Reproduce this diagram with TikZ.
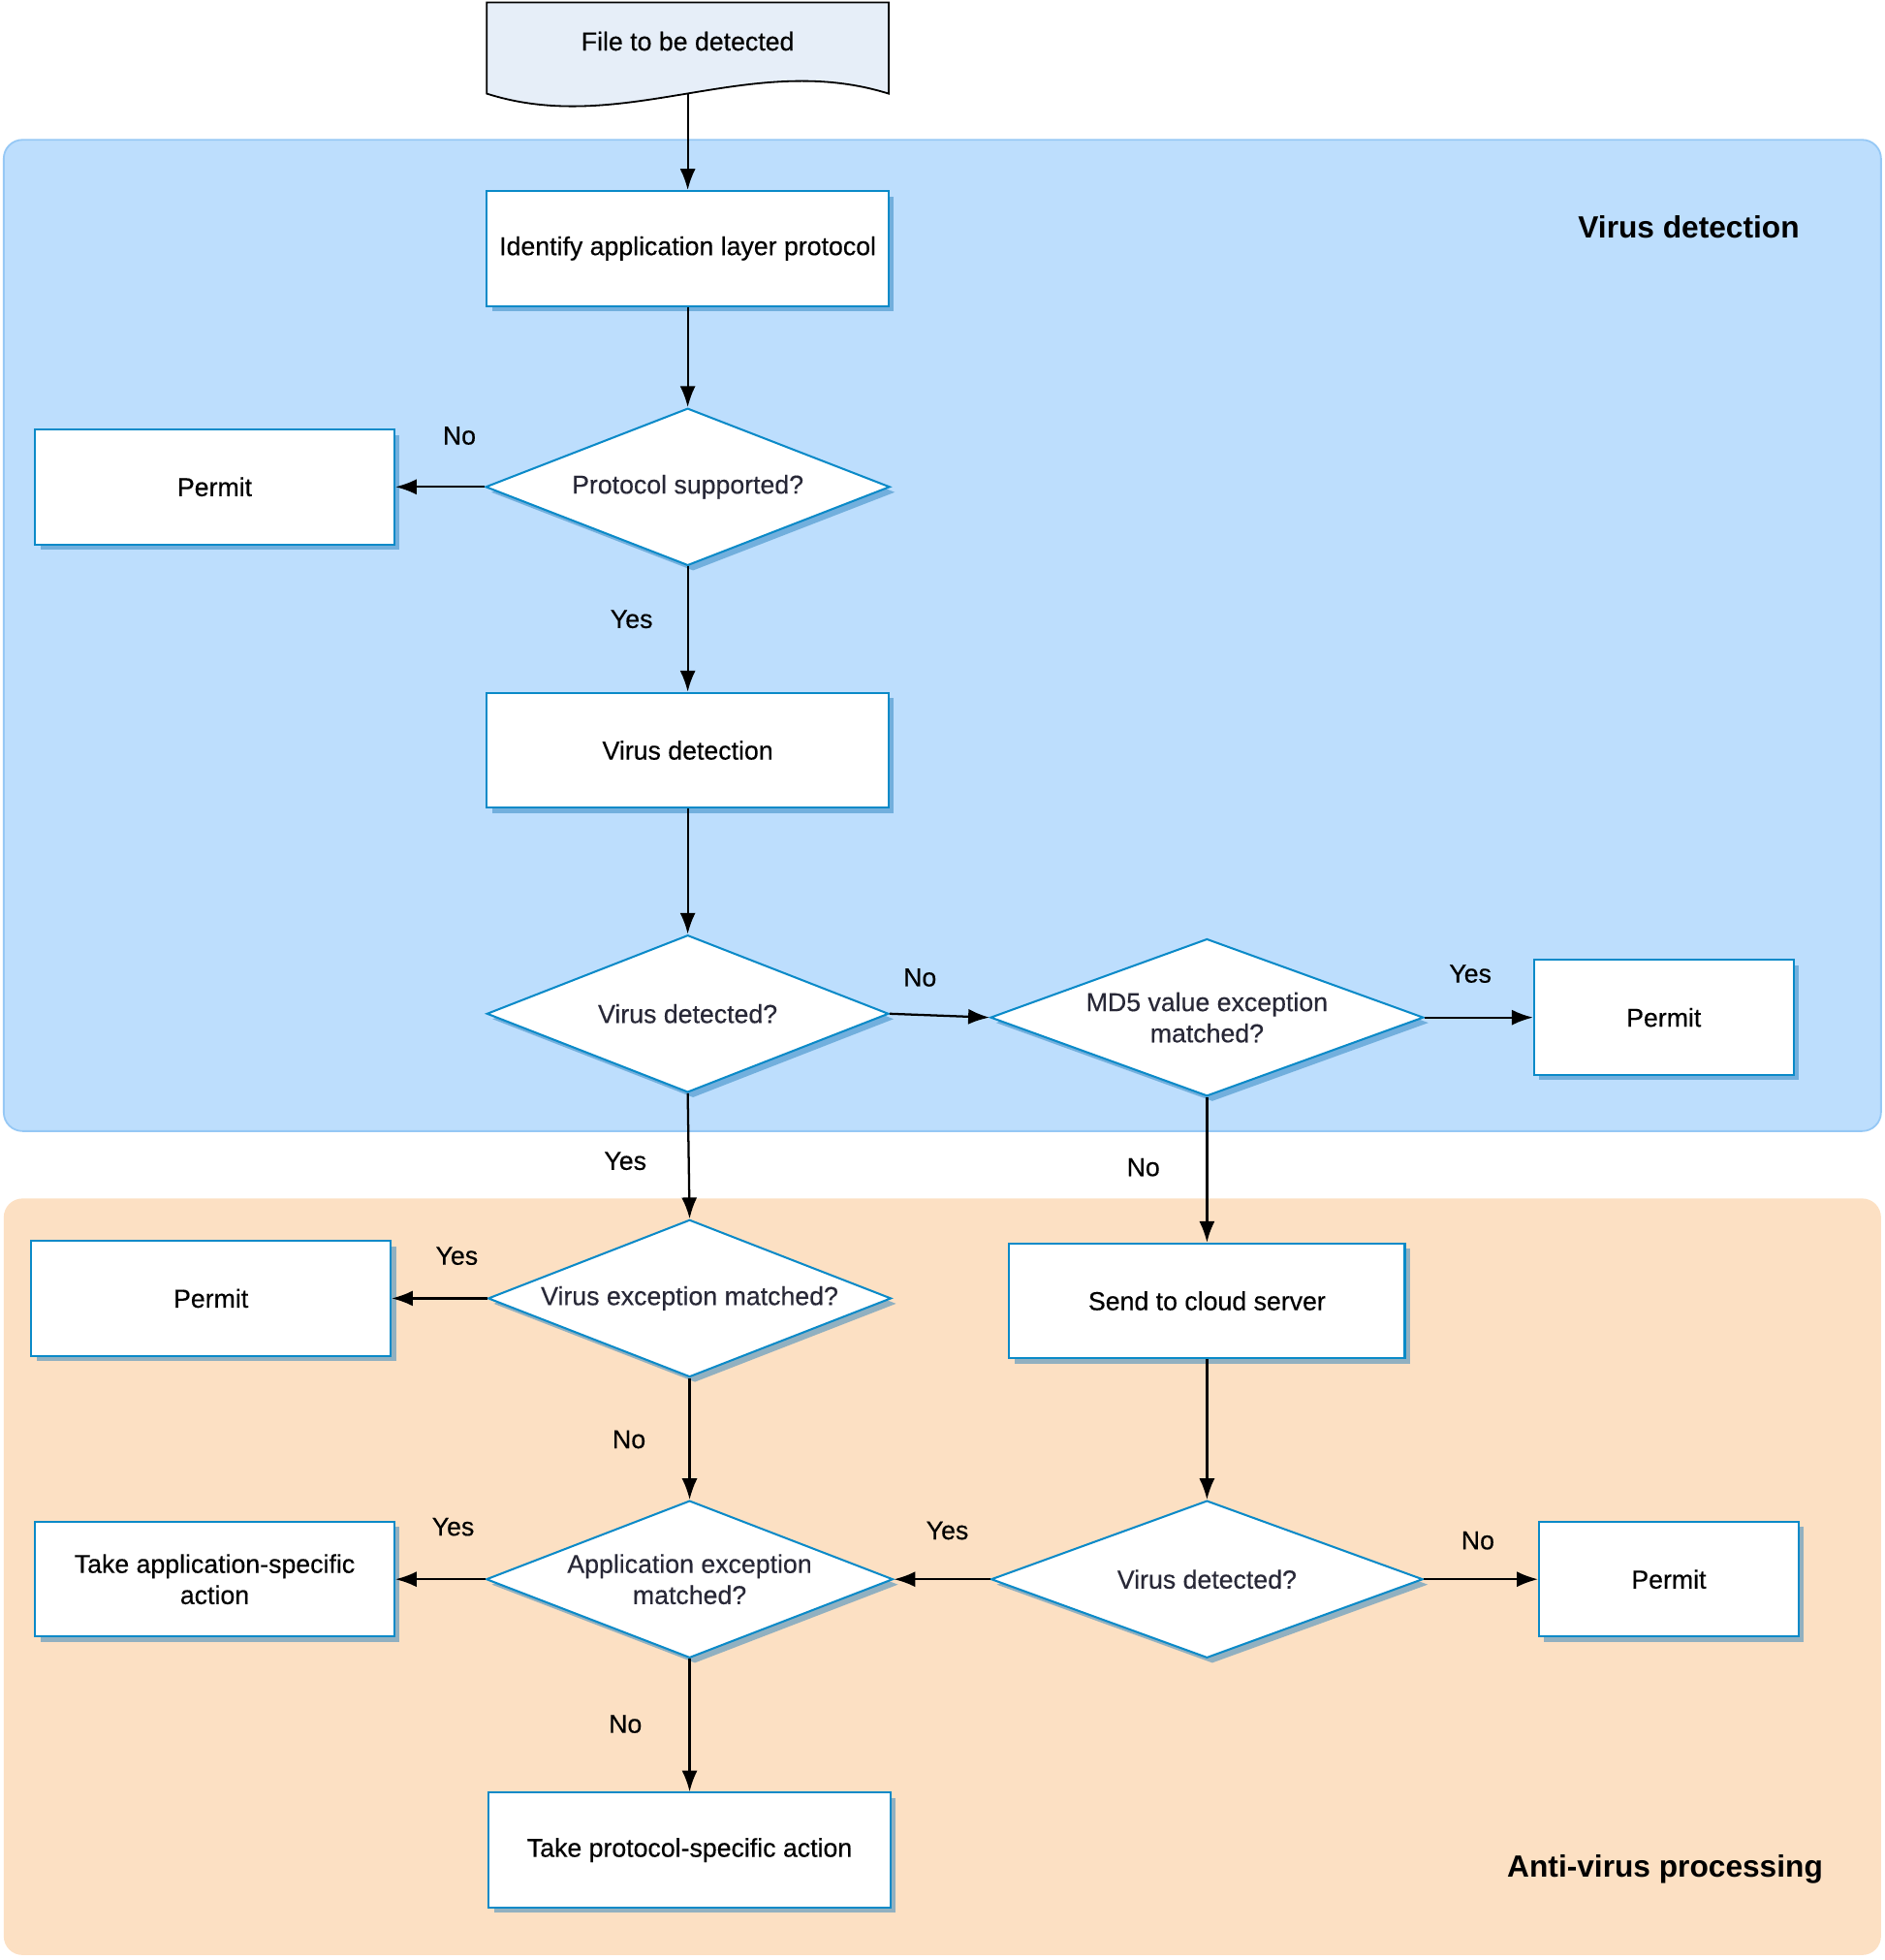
\documentclass[tikz,border=0pt]{standalone}
\usepackage{fontspec}
\setmainfont{Liberation Sans}
\newfontfamily\nodefont{Liberation Sans}[FakeBold=0.35]
\usetikzlibrary{shapes.geometric,arrows.meta,shadows}
\definecolor{regblue}{RGB}{189,222,253}
\definecolor{regblueedge}{RGB}{150,200,245}
\definecolor{regorange}{RGB}{252,224,195}
\definecolor{nodeedge}{RGB}{10,138,200}
\definecolor{filefill}{RGB}{230,238,248}
\definecolor{shadowc}{RGB}{40,130,190}
\definecolor{qtext}{RGB}{40,40,55}
\begin{document}
\begin{tikzpicture}[x=0.02cm,y=-0.02cm,
  every node/.style={font=\nodefont\fontsize{11.8}{14.2}\selectfont},
  shadowed/.style={drop shadow={shadow xshift=0.085cm, shadow yshift=-0.085cm, fill=shadowc, opacity=0.5}},
  procbox/.style={rectangle, draw=nodeedge, fill=white, line width=0.9pt, align=center, inner sep=2pt, shadowed, minimum height=1.84cm},
  decision/.style={diamond, draw=nodeedge, fill=white, line width=0.9pt, inner sep=0pt, shadowed, minimum height=2.52cm},
  qlabel/.style={label={[align=center, text=qtext, inner sep=0pt]center:#1}},
  flow/.style={draw=black, line width=1pt, -{Latex[length=0.34cm,width=0.25cm]}},
  lbl/.style={inner sep=0pt},
  ttl/.style={font=\fontsize{14}{17}\selectfont\bfseries, inner sep=0pt}
]
\useasboundingbox (0,0) rectangle (1510,1570);

% regions
\draw[fill=regblue, draw=regblueedge, line width=0.8pt, rounded corners=0.3cm] (3,112) rectangle (1507,906);
\fill[regorange, rounded corners=0.3cm] (3,960) rectangle (1507,1566);

% document shape
\draw[fill=filefill, draw=black, line width=0.8pt] (390,2) -- (712,2) -- (712,75)
  .. controls (600,40) and (500,110) .. (390,75) -- cycle;
\node (file) at (551,33) {File to be detected};
\coordinate (filebot) at (551,75);

% nodes
\node[procbox, minimum width=6.44cm] (ident) at (551,199) {Identify application layer protocol};
\node[decision, minimum width=6.48cm, qlabel={Protocol supported?}] (proto) at (551,390) {};
\node[procbox, minimum width=5.76cm] (permA) at (172,390) {Permit};
\node[procbox, minimum width=6.44cm] (vdbox) at (551,601) {Virus detection};
\node[decision, minimum width=6.44cm, qlabel={Virus detected?}] (vd1) at (551,812) {};
\node[decision, minimum width=6.94cm, qlabel={MD5 value exception\\matched?}] (md5) at (967,815) {};
\node[procbox, minimum width=4.16cm] (permB) at (1333,815) {Permit};
\node[decision, minimum width=6.46cm, qlabel={Virus exception matched?}] (vexc) at (552.5,1040) {};
\node[procbox, minimum width=5.76cm] (permC) at (169,1040) {Permit};
\node[procbox, minimum width=6.34cm] (cloud) at (967,1042) {Send to cloud server};
\node[decision, minimum width=6.52cm, qlabel={Application exception\\matched?}] (appexc) at (552.5,1265) {};
\node[procbox, minimum width=5.76cm] (takeapp) at (172,1265) {Take application-specific\\action};
\node[decision, minimum width=6.92cm, qlabel={Virus detected?}] (vd2) at (967,1265) {};
\node[procbox, minimum width=4.16cm] (permD) at (1337,1265) {Permit};
\node[procbox, minimum width=6.44cm] (takeproto) at (552.5,1482) {Take protocol-specific action};

% titles
\node[ttl] (t1) at (1353,182) {Virus detection};
\node[ttl] (t2) at (1334,1497) {Anti-virus processing};

% connectors
\draw[flow] (filebot) -- (ident.north);
\draw[flow] (ident) -- (proto);
\draw[flow] (proto.west) -- (permA.east);
\draw[flow] (proto) -- (vdbox);
\draw[flow] (vdbox) -- (vd1);
\draw[flow] (vd1.east) -- (md5.west);
\draw[flow] (md5.east) -- (permB.west);
\draw[flow] (vd1.south) -- (vexc.north);
\draw[flow] (md5) -- (cloud);
\draw[flow] (vexc.west) -- (permC.east);
\draw[flow] (vexc.south) -- (appexc.north);
\draw[flow] (cloud) -- (vd2);
\draw[flow] (vd2.west) -- (appexc.east);
\draw[flow] (vd2.east) -- (permD.west);
\draw[flow] (appexc.west) -- (takeapp.east);
\draw[flow] (appexc.south) -- (takeproto.north);

% labels
\node[lbl] (l1) at (368,349) {No};
\node[lbl] (l2) at (506,496) {Yes};
\node[lbl] (l3) at (737,783) {No};
\node[lbl] (l4) at (1178,780) {Yes};
\node[lbl] (l5) at (501,930) {Yes};
\node[lbl] (l6) at (916,935) {No};
\node[lbl] (l7) at (366,1006) {Yes};
\node[lbl] (l8) at (504,1153) {No};
\node[lbl] (l9) at (363,1223) {Yes};
\node[lbl] (l10) at (759,1226) {Yes};
\node[lbl] (l11) at (1184,1234) {No};
\node[lbl] (l12) at (501,1381) {No};
\end{tikzpicture}
\end{document}
